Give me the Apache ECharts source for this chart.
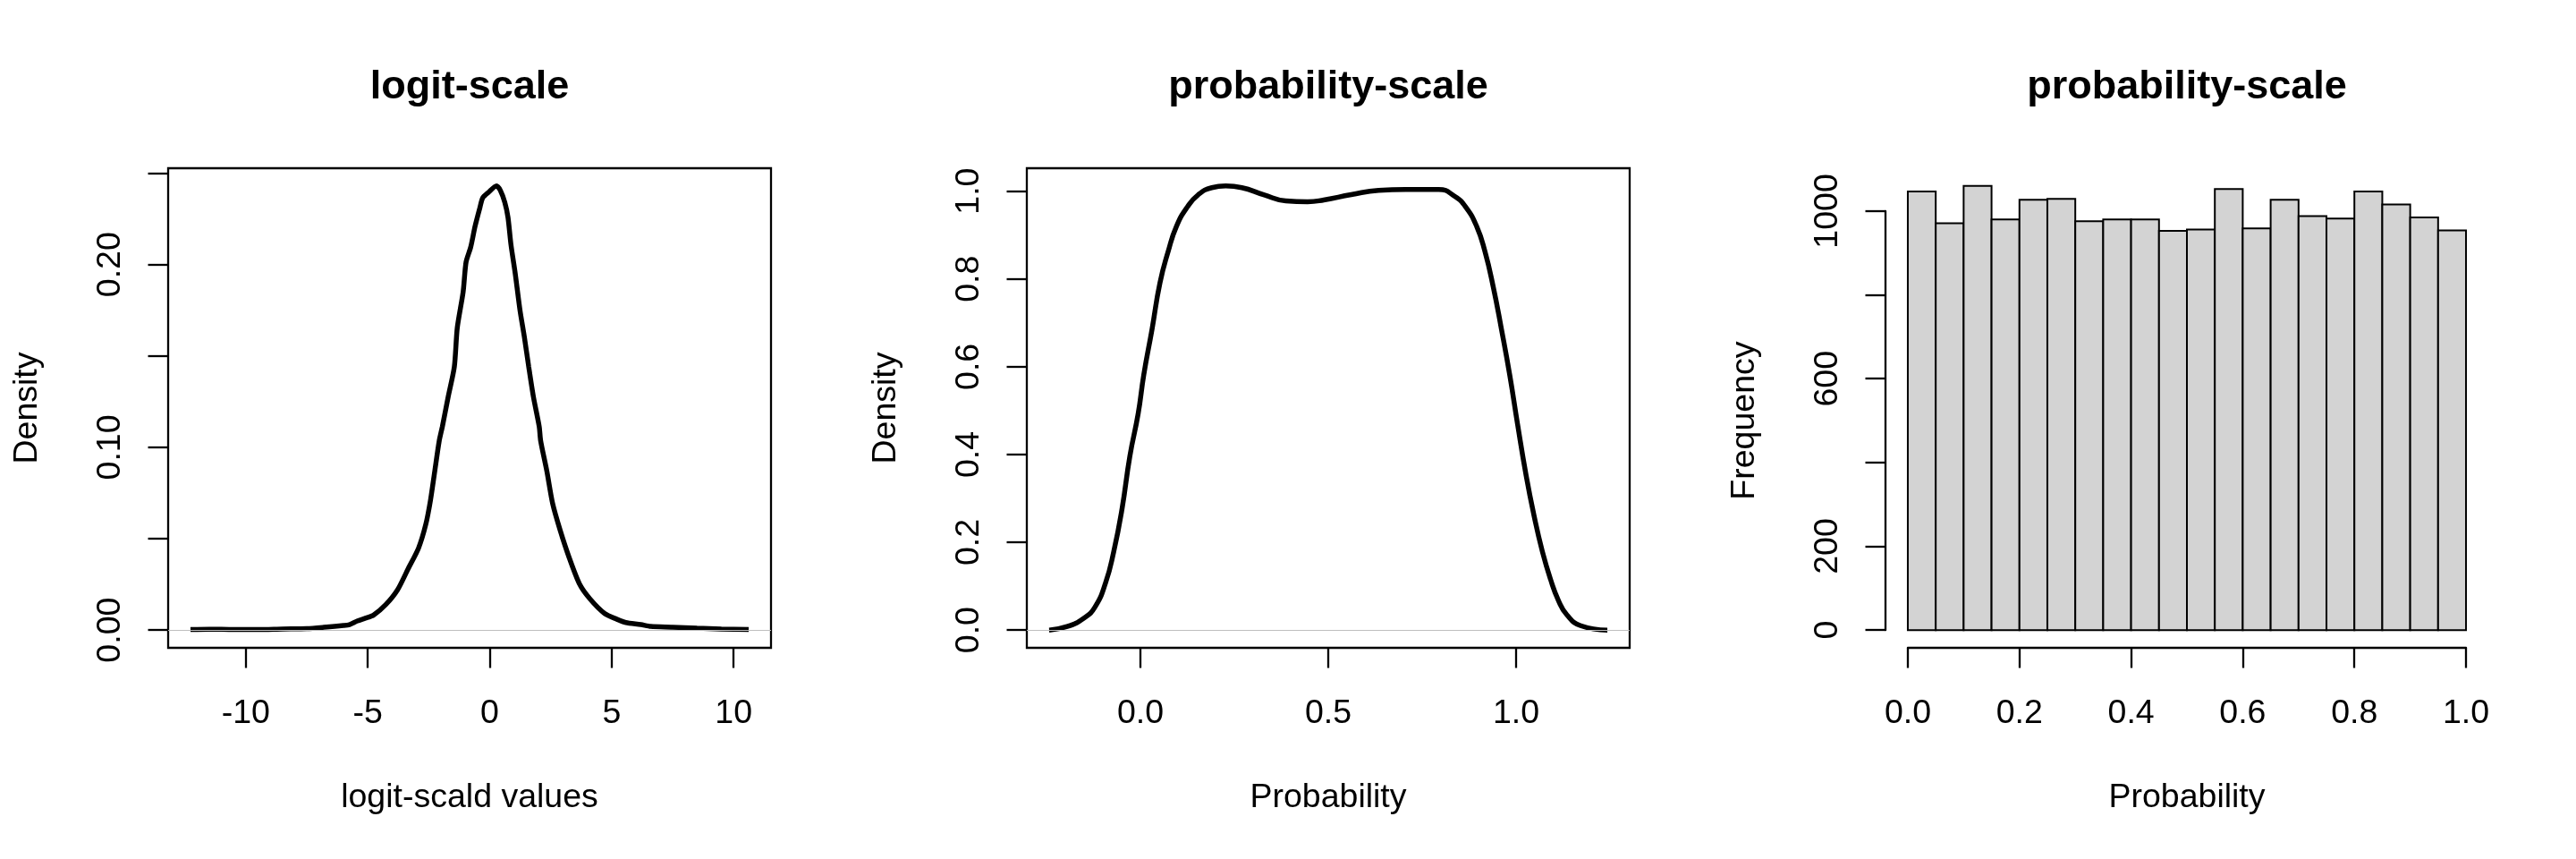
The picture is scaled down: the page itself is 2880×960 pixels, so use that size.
<!DOCTYPE html>
<html>
<head>
<meta charset="utf-8">
<script src="https://cdn.jsdelivr.net/npm/echarts@6/dist/echarts.min.js"></script>
<style>
html,body{margin:0;padding:0;background:#ffffff;}
#chart{width:2880px;height:960px;}
</style>
</head>
<body>
<div id="chart"></div>
<script>
// ---------------- data ----------------
const titles = ['logit-scale', 'probability-scale', 'probability-scale'];
const xNames = ['logit-scald values', 'Probability', 'Probability'];
const yNames = ['Density', 'Density', 'Frequency'];

// panel 1: density of logit-scaled values
const logitX = [-12.27, -11.5, -10.5, -9.5, -8.5, -7.5, -6.8, -6.0, -5.75, -5.43, -5.1, -4.76, -4.27, -3.78, -3.35, -2.92, -2.62, -2.43, -2.25, -2.07, -1.94, -1.70, -1.45, -1.33, -1.09, -0.97, -0.78, -0.60, -0.41, -0.29, -0.05, 0.28, 0.44, 0.62, 0.75, 0.87, 1.05, 1.24, 1.42, 1.60, 1.79, 2.03, 2.09, 2.34, 2.58, 2.89, 3.25, 3.68, 4.11, 4.72, 5.2, 5.58, 6.2, 6.6, 7.5, 8.5, 9.5, 10.62];
const logitY = [0.0003, 0.0005, 0.0003, 0.0003, 0.0006, 0.0008, 0.0015, 0.0025, 0.003, 0.005, 0.0065, 0.0082, 0.0138, 0.022, 0.0334, 0.0448, 0.0579, 0.0709, 0.0872, 0.1035, 0.1114, 0.1278, 0.1441, 0.1654, 0.1850, 0.2013, 0.2095, 0.2209, 0.2307, 0.2364, 0.2395, 0.2430, 0.2405, 0.2340, 0.2258, 0.2111, 0.1948, 0.1752, 0.1605, 0.1441, 0.1278, 0.1114, 0.1035, 0.0872, 0.0693, 0.0546, 0.0400, 0.0253, 0.0171, 0.0090, 0.006, 0.0041, 0.003, 0.002, 0.0016, 0.001, 0.0006, 0.0003];

// panel 2: density on probability scale
const probX = [-0.243, -0.195, -0.151, -0.122, -0.093, -0.071, -0.049, -0.028, -0.006, 0.009, 0.031, 0.052, 0.074, 0.096, 0.125, 0.154, 0.190, 0.227, 0.270, 0.328, 0.387, 0.445, 0.488, 0.561, 0.634, 0.706, 0.794, 0.837, 0.866, 0.895, 0.917, 0.939, 0.961, 0.983, 1.004, 1.026, 1.048, 1.070, 1.092, 1.113, 1.135, 1.172, 1.243];
const probY = [0.0, 0.008, 0.027, 0.051, 0.107, 0.179, 0.276, 0.397, 0.493, 0.582, 0.686, 0.791, 0.863, 0.920, 0.964, 0.992, 1.008, 1.0118, 1.008, 0.992, 0.978, 0.976, 0.980, 0.992, 1.002, 1.004, 1.004, 0.988, 0.964, 0.920, 0.863, 0.783, 0.686, 0.582, 0.469, 0.356, 0.260, 0.179, 0.115, 0.067, 0.035, 0.010, 0.0];

// panel 3: histogram of probabilities
const binEdges = [0, 0.05, 0.10, 0.15, 0.20, 0.25, 0.30, 0.35, 0.40, 0.45, 0.50, 0.55, 0.60, 0.65, 0.70, 0.75, 0.80, 0.85, 0.90, 0.95, 1.00];
const counts = [1047, 971, 1060, 980, 1027, 1029, 976, 980, 980, 953, 956, 1053, 959, 1027, 988, 982, 1047, 1016, 985, 954];

// ticks and labels
const xTicks1 = [-10, -5, 0, 5, 10];
const yTicks1 = [0, 0.05, 0.10, 0.15, 0.20, 0.25];
const yLabels1 = [0, 0.10, 0.20];
const xTicks2 = [0, 0.5, 1.0];
const yTicks2 = [0, 0.2, 0.4, 0.6, 0.8, 1.0];
const xTicks3 = [0, 0.2, 0.4, 0.6, 0.8, 1.0];
const yTicks3 = [0, 200, 400, 600, 800, 1000];
const yLabels3 = [0, 200, 600, 1000];

// ---------------- layout ----------------
const FONT = 'Liberation Sans';
const PLOT_TOP = 188, PLOT_H = 536, PLOT_W = 674;
const LEFTS = [188, 1148, 2108];
const LW = 2.3, TICK_LEN = 22.5, FS = 37.5;
const LABEL_MARGIN_X = 55, LABEL_MARGIN_Y = 45, NAME_GAP_X = 149, NAME_GAP_Y = 138;
const TITLE_Y = 98;

function padRange(lo, hi) { const d = hi - lo; return [lo - 0.04 * d, hi + 0.04 * d]; }
const xlim1 = padRange(Math.min(...logitX), Math.max(...logitX));
const ylim1 = padRange(0, Math.max(...logitY));
const xlim2 = padRange(Math.min(...probX), Math.max(...probX));
const ylim2 = padRange(0, Math.max(...probY));
const xlim3 = padRange(binEdges[0], binEdges[binEdges.length - 1]);
const ylim3 = padRange(0, Math.max(...counts));

// histogram axes only span the tick range (like R's hist)
const hx0 = xTicks3[0], hx1 = xTicks3[xTicks3.length - 1];
const hy0 = yTicks3[0], hy1 = yTicks3[yTicks3.length - 1];
const pxX3 = PLOT_W / (xlim3[1] - xlim3[0]);
const pxY3 = PLOT_H / (ylim3[1] - ylim3[0]);
const auxLeft = LEFTS[2] + (hx0 - xlim3[0]) * pxX3;
const auxWidth = (hx1 - hx0) * pxX3;
const auxTop = PLOT_TOP + (ylim3[1] - hy1) * pxY3;
const auxHeight = (hy1 - hy0) * pxY3;
const auxXOffset = (PLOT_TOP + PLOT_H) - (auxTop + auxHeight);
const auxYOffset = auxLeft - LEFTS[2];

const axisLineStyle = { color: '#000', width: LW };
const labelStyle = { color: '#000', fontFamily: FONT, fontSize: FS };
const nameStyle = { color: '#000', fontFamily: FONT, fontSize: FS };

function xAxisDef(gridIndex, lim, ticks, labels, fmt, name, showLine, offset) {
  return {
    type: 'value', gridIndex, min: lim[0], max: lim[1], offset: offset || 0,
    position: 'bottom',
    axisLine: { show: showLine, onZero: false, lineStyle: axisLineStyle },
    axisTick: { show: true, inside: false, length: TICK_LEN, lineStyle: axisLineStyle, customValues: ticks },
    axisLabel: Object.assign({ show: true, margin: LABEL_MARGIN_X, customValues: labels, formatter: fmt }, labelStyle),
    splitLine: { show: false },
    name, nameLocation: 'middle', nameGap: NAME_GAP_X, nameTextStyle: nameStyle
  };
}
function yAxisDef(gridIndex, lim, ticks, labels, fmt, name, showLine, offset) {
  return {
    type: 'value', gridIndex, min: lim[0], max: lim[1], offset: offset || 0,
    position: 'left',
    axisLine: { show: showLine, onZero: false, lineStyle: axisLineStyle },
    axisTick: { show: true, inside: false, length: TICK_LEN, lineStyle: axisLineStyle, customValues: ticks },
    axisLabel: Object.assign({ show: true, margin: LABEL_MARGIN_Y, rotate: 90, customValues: labels, formatter: fmt }, labelStyle),
    splitLine: { show: false },
    name, nameLocation: 'middle', nameGap: NAME_GAP_Y, nameRotate: 90, nameTextStyle: nameStyle
  };
}

const zeroLine = {
  silent: true, symbol: 'none', label: { show: false },
  lineStyle: { color: '#BEBEBE', width: 1.2, type: 'solid' },
  data: [{ yAxis: 0 }]
};

const option = {
  animation: false,
  backgroundColor: '#ffffff',
  textStyle: { fontFamily: FONT },
  graphic: titles.map((t, i) => ({
    type: 'text', x: LEFTS[i] + PLOT_W / 2, y: TITLE_Y,
    style: { text: t, fill: '#000', font: 'bold 45px "' + FONT + '"', align: 'center', verticalAlign: 'middle' }
  })),
  grid: [
    { left: LEFTS[0], top: PLOT_TOP, width: PLOT_W, height: PLOT_H, show: true, borderColor: '#000', borderWidth: LW, backgroundColor: 'transparent', containLabel: false },
    { left: LEFTS[1], top: PLOT_TOP, width: PLOT_W, height: PLOT_H, show: true, borderColor: '#000', borderWidth: LW, backgroundColor: 'transparent', containLabel: false },
    { left: auxLeft, top: auxTop, width: auxWidth, height: auxHeight, show: false, containLabel: false }
  ],
  xAxis: [
    xAxisDef(0, xlim1, xTicks1, xTicks1, v => String(v), xNames[0], false),
    xAxisDef(1, xlim2, xTicks2, xTicks2, v => v.toFixed(1), xNames[1], false),
    xAxisDef(2, [hx0, hx1], xTicks3, xTicks3, v => v.toFixed(1), xNames[2], true, auxXOffset)
  ],
  yAxis: [
    yAxisDef(0, ylim1, yTicks1, yLabels1, v => v.toFixed(2), yNames[0], false),
    yAxisDef(1, ylim2, yTicks2, yTicks2, v => v.toFixed(1), yNames[1], false),
    yAxisDef(2, [hy0, hy1], yTicks3, yLabels3, v => String(Math.round(v)), yNames[2], true, auxYOffset)
  ],
  series: [
    {
      type: 'line', xAxisIndex: 0, yAxisIndex: 0,
      data: logitX.map((x, i) => [x, logitY[i]]),
      showSymbol: false, smooth: 0.25, lineStyle: { color: '#000', width: 5.5 }, z: 3,
      markLine: zeroLine
    },
    {
      type: 'line', xAxisIndex: 1, yAxisIndex: 1,
      data: probX.map((x, i) => [x, probY[i]]),
      showSymbol: false, smooth: 0.5, lineStyle: { color: '#000', width: 5.5 }, z: 3,
      markLine: zeroLine
    },
    {
      type: 'custom', xAxisIndex: 2, yAxisIndex: 2, clip: false,
      data: counts.map((c, i) => [binEdges[i], binEdges[i + 1], c]),
      encode: { x: [0, 1], y: 2 },
      renderItem: function (params, api) {
        const p0 = api.coord([api.value(0), api.value(2)]);
        const p1 = api.coord([api.value(1), 0]);
        return {
          type: 'rect',
          shape: { x: p0[0], y: p0[1], width: p1[0] - p0[0], height: p1[1] - p0[1] },
          style: { fill: '#D3D3D3', stroke: '#000', lineWidth: 2 }
        };
      }
    }
  ]
};

const chart = echarts.init(document.getElementById('chart'), null, { renderer: 'canvas' });
chart.setOption(option);
</script>
</body>
</html>
